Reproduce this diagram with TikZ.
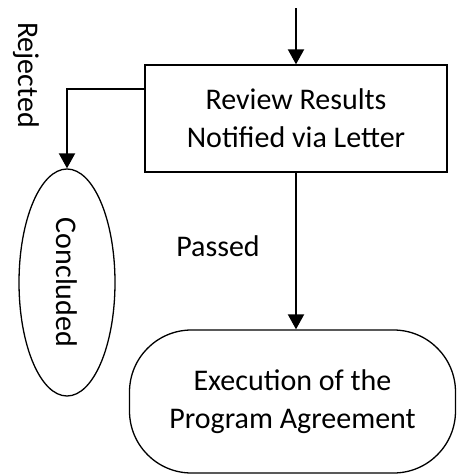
\documentclass[tikz,border=0pt]{standalone}
\usepackage{fontspec}
\setmainfont{Carlito}
\usetikzlibrary{arrows.meta,shapes.geometric}
\tikzset{
	% ------- every something
	every node/.style={
		font=\fontsize{30}{38}\selectfont,
	},
	% ------- custom
	flow/.style={
		line width=2pt,
		-{Triangle[length=15pt, width=16pt]},
	},
	stepbox/.style={
		draw, line width=1.3pt, align=center,
		minimum width=302pt, minimum height=107pt,
	},
	endbox/.style={
		draw, line width=1.3pt, align=center,
		rounded corners=62pt,
		minimum width=326pt, minimum height=143pt,
	},
	endoval/.style={
		draw, ellipse, line width=1.3pt,
		minimum width=227pt, minimum height=96pt,
		rotate=-90,
	},
	sidelabel/.style={
		inner sep=0pt,
	},
}
\begin{document}
\begin{tikzpicture}[x=1pt, y=-1pt]

% frame %{{{1

	\useasboundingbox (0,0) rectangle (457,474);

% nodes %{{{1

	\node[stepbox] (review) at (296,118.5) {Review Results\\Notified via Letter};
	\node[endoval] (concl) at (67,282.5) {Concluded};
	\node[endbox] (exec) at (292.5,401.5) {Execution of the\\Program Agreement};

	\coordinate (in) at (296,8);

% labels %{{{1

	\node[sidelabel, rotate=-90] (rej) at (26,75) {Rejected};
	\node[sidelabel] (pass) at (218,246) {Passed};

% connectors %{{{1

	\draw[flow] (in) -- (review.north);
	\draw[flow] ([yshift=-24.5pt]review.north west) -| (concl);
	\draw[flow] (review.south) -- (review.south |- exec.north);

% closing %{{{1

\end{tikzpicture}
\end{document}
